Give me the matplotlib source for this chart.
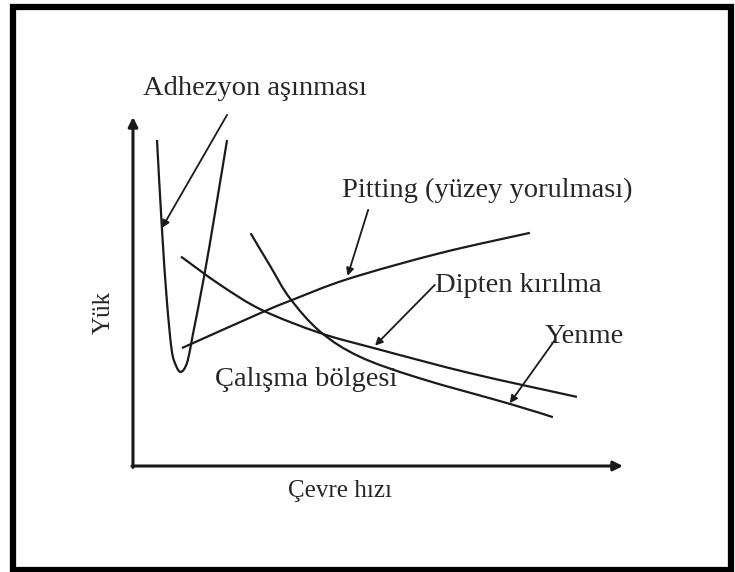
import numpy as np
import matplotlib
matplotlib.use("Agg")
import matplotlib.pyplot as plt
from matplotlib.patches import Rectangle, PathPatch
from matplotlib.path import Path

plt.rcParams['font.family'] = ['Liberation Serif', 'DejaVu Serif']

# Schematic gear failure limits: load (Yük) versus peripheral speed (Çevre hızı)
adhesion_x = [0.49, 0.59, 0.69, 0.79, 0.88, 0.96, 1.04, 1.12, 1.22, 1.45, 1.67, 1.92]
adhesion_y = [9.34, 6.82, 4.76, 3.32, 2.87, 2.70, 2.77, 3.04, 3.75, 5.42, 7.22, 9.34]

pitting_x = [1.00, 2.63, 3.20, 4.39, 6.27, 8.10]
pitting_y = [3.38, 4.40, 4.73, 5.36, 6.10, 6.68]

root_break_x = [0.98, 1.78, 2.63, 3.82, 4.94, 6.88, 9.06]
root_break_y = [6.00, 5.19, 4.47, 3.81, 3.37, 2.66, 1.98]

scuffing_x = [2.40, 2.80, 3.20, 3.82, 4.63, 5.86, 7.69, 8.57]
scuffing_y = [6.67, 5.73, 4.81, 3.85, 3.13, 2.51, 1.78, 1.40]

x_label = "Çevre hızı"
y_label = "Yük"
region_label = "Çalışma bölgesi"

# (text, arrow start, arrow tip on the curve)
callouts = [
    ("Adhezyon aşınması", (1.92, 10.06), (0.59, 6.82)),
    ("Pitting (yüzey yorulması)", (4.80, 7.34), (4.38, 5.45)),
    ("Dipten kırılma", (6.16, 5.19), (4.94, 3.45)),
    ("Yenme", (8.61, 3.61), (7.69, 1.80)),
]


def smooth_path(xs, ys):
    """Cubic Bezier path passing through every given point (Catmull-Rom tangents)."""
    pts = np.column_stack([xs, ys]).astype(float)
    verts = [pts[0]]
    codes = [Path.MOVETO]
    n = len(pts)
    for i in range(n - 1):
        p0 = pts[i - 1] if i > 0 else pts[i]
        p1 = pts[i]
        p2 = pts[i + 1]
        p3 = pts[i + 2] if i + 2 < n else pts[i + 1]
        verts += [p1 + (p2 - p0) / 6.0, p2 - (p3 - p1) / 6.0, p2]
        codes += [Path.CURVE4] * 3
    return Path(verts, codes)


fig = plt.figure(figsize=(7.35, 5.72), dpi=100)
ax = fig.add_axes([0, 0, 1, 1])
ax.set_xlim(-2.714, 12.286)
ax.set_ylim(-3.037, 13.352)
ax.axis('off')

# outer frame
fig.patches.append(Rectangle((13 / 735, 2 / 572), (731 - 13) / 735, (565 - 2) / 572,
                             transform=fig.transFigure, fill=False,
                             edgecolor='black', linewidth=4.5))

ink = '#1a1a1a'
txt = '#262626'

# coordinate axes with arrow heads
arrow_axis = dict(arrowstyle='-|>', color=ink, lw=2.2, mutation_scale=14,
                  shrinkA=0, shrinkB=0)
ax.annotate('', xy=(10, 0), xytext=(-0.02, 0), arrowprops=arrow_axis)
ax.annotate('', xy=(0, 10), xytext=(0, -0.04), arrowprops=arrow_axis)

# curves
for xs, ys in [(adhesion_x, adhesion_y), (pitting_x, pitting_y),
               (root_break_x, root_break_y), (scuffing_x, scuffing_y)]:
    ax.add_patch(PathPatch(smooth_path(xs, ys), fill=False, edgecolor=ink,
                           lw=1.6, capstyle='butt'))

# axis titles
ax.text(4.22, -0.72, x_label, fontsize=18, color=txt, ha='center', va='center')
ax.text(-0.60, 4.41, y_label, fontsize=18, color=txt, ha='center', va='center',
        rotation=90)
ax.text(3.53, 2.49, region_label, fontsize=20.5, color=txt, ha='center', va='center')

# callout labels and leader arrows
arrow_note = dict(arrowstyle='-|>', color=ink, lw=1.3, mutation_scale=11,
                  shrinkA=0, shrinkB=0)
for text, start, tip in callouts:
    ax.annotate('', xy=tip, xytext=start, arrowprops=arrow_note)

ax.text(2.49, 10.83, callouts[0][0], fontsize=20.5, color=txt, ha='center', va='center')
ax.text(7.24, 7.91, callouts[1][0], fontsize=20.5, color=txt, ha='center', va='center')
ax.text(6.16, 5.16, callouts[2][0], fontsize=20.5, color=txt, ha='left', va='center')
ax.text(8.40, 3.70, callouts[3][0], fontsize=20.5, color=txt, ha='left', va='center')

fig.savefig('out.png', dpi=100)
